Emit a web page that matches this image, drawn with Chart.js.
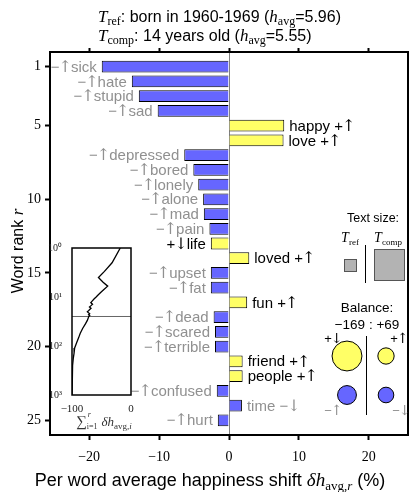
<!DOCTYPE html>
<html>
<head>
<meta charset="utf-8">
<script src="https://cdn.jsdelivr.net/npm/chart.js@4.4.1/dist/chart.umd.min.js"></script>
<style>
  body { margin: 0; background: #fff; }
  #wrap { position: relative; width: 409px; height: 492px; }
  #main { position: absolute; left: 0; top: 0; }
  #inset { position: absolute; left: 30px; top: 240px; }
</style>
</head>
<body>
<div id="wrap">
  <canvas id="main" width="409" height="492"></canvas>
  <canvas id="inset" width="110" height="200"></canvas>
</div>
<script>
const ranks = [1, 2, 3, 4, 5, 6, 7, 8, 9, 10, 11, 12, 13, 14, 15, 16, 17, 18, 19, 20, 21, 22, 23, 24, 25];
const words = ['sick', 'hate', 'stupid', 'sad', 'happy', 'love', 'depressed', 'bored', 'lonely', 'alone',
  'mad', 'pain', 'life', 'loved', 'upset', 'fat', 'fun', 'dead', 'scared', 'terrible',
  'friend', 'people', 'confused', 'time', 'hurt'];
const kinds = ['−↑', '−↑', '−↑', '−↑', '+↑', '+↑', '−↑', '−↑', '−↑', '−↑',
  '−↑', '−↑', '+↓', '+↑', '−↑', '−↑', '+↑', '−↑', '−↑', '−↑',
  '+↑', '+↑', '−↑', '−↓', '−↑'];
const shifts = [-18.2, -13.9, -12.9, -10.2, 7.9, 7.8, -6.4, -5.1, -4.4, -3.7,
  -3.6, -2.8, -2.6, 2.9, -2.6, -2.6, 2.6, -2.2, -2.0, -2.0,
  1.95, 1.95, -1.75, 1.85, -1.6];
const xTicks = [-20, -10, 0, 10, 20];
const yTicks = [1, 5, 10, 15, 20, 25];

// inset: cumulative shift past the top 25
const tailRanks = [30, 35, 44, 55, 69, 85, 110, 140, 174, 250, 400, 600, 1000];
const tailCumShift = [-74, -77, -82, -86, -89, -92, -95.5, -96.5, -97.7, -99, -99.5, -100, -100];
const insetXTicks = [-100, 0];
const insetYTicks = [1, 10, 100, 1000];

// balance legend
const balanceKinds = ['+↓', '+↑', '−↑', '−↓'];
const balanceValues = [-121, 36, -48, 33];
const balanceTotals = [-169, 69];

const BLUE = '#6666ff', YELLOW = '#ffff66', GRAY_TXT = '#909090';
const SANS = '"Liberation Sans", Arial, sans-serif';
const SERIF = '"Liberation Serif", "Times New Roman", serif';
const ARROW_FONT = '"DejaVu Serif", serif';

function richWidth(ctx, segs) {
  let w = 0;
  segs.forEach(s => { ctx.font = s.f; w += ctx.measureText(s.t).width + (s.gap || 0); });
  return w;
}
function drawRich(ctx, x, y, segs, align) {
  const w = richWidth(ctx, segs);
  let cx = align === 'center' ? x - w / 2 : align === 'right' ? x - w : x;
  ctx.textAlign = 'left';
  segs.forEach(s => {
    ctx.font = s.f;
    ctx.fillText(s.t, cx, y + (s.dy || 0));
    cx += ctx.measureText(s.t).width + (s.gap || 0);
  });
}
// sign + arrow pieces, arrow drawn in a thinner font, pulled in a little
function kindSegs(k, size) {
  return [{ t: k[0], f: size + 'px ' + SANS, gap: -1 }, { t: k[1], f: (size + 1) + 'px ' + ARROW_FONT, gap: -1 }];
}

const barColors = kinds.map(k => k[0] === '+' ? YELLOW : BLUE);

const wordLabels = {
  id: 'wordLabels',
  afterDatasetsDraw(chart) {
    const ctx = chart.ctx;
    const meta = chart.getDatasetMeta(0);
    ctx.save();
    ctx.textBaseline = 'middle';
    const f = '15px ' + SANS;
    meta.data.forEach((bar, i) => {
      ctx.fillStyle = kinds[i][0] === '+' ? '#000' : GRAY_TXT;
      if (shifts[i] < 0) {
        drawRich(ctx, bar.x - 5, bar.y + 1, kindSegs(kinds[i], 15).concat([{ t: words[i], f: f }]), 'right');
      } else {
        drawRich(ctx, bar.x + 5, bar.y + 1, [{ t: words[i] + ' ', f: f }].concat(kindSegs(kinds[i], 15)), 'left');
      }
    });
    ctx.restore();
  }
};

const decorations = {
  id: 'decorations',
  afterDraw(chart) {
    const ctx = chart.ctx;
    ctx.save();
    ctx.fillStyle = '#000';
    ctx.textBaseline = 'alphabetic';
    // title
    const it17 = 'italic 17px ' + SERIF, sub12 = '12px ' + SERIF, s16 = '16px ' + SANS;
    drawRich(ctx, 98, 22, [
      { t: 'T', f: it17 }, { t: 'ref', f: sub12, dy: 3 }, { t: ': born in 1960-1969 (', f: s16 },
      { t: 'h', f: it17 }, { t: 'avg', f: sub12, dy: 3 }, { t: '=5.96)', f: s16 }]);
    drawRich(ctx, 98, 41, [
      { t: 'T', f: it17 }, { t: 'comp', f: sub12, dy: 3 }, { t: ': 14 years old (', f: s16 },
      { t: 'h', f: it17 }, { t: 'avg', f: sub12, dy: 3 }, { t: '=5.55)', f: s16 }]);
    // axis titles
    drawRich(ctx, 210, 486, [
      { t: 'Per word average happiness shift ', f: '18px ' + SANS },
      { t: 'δh', f: 'italic 19px ' + SERIF }, { t: 'avg,', f: '13px ' + SERIF, dy: 4 },
      { t: 'r', f: 'italic 13px ' + SERIF, dy: 4 }, { t: ' (%)', f: '18px ' + SANS }], 'center');
    ctx.save();
    ctx.translate(23, 251);
    ctx.rotate(-Math.PI / 2);
    drawRich(ctx, 0, 0, [{ t: 'Word rank ', f: '16px ' + SANS }, { t: 'r', f: 'italic 17px ' + SERIF }], 'center');
    ctx.restore();

    // text size legend
    ctx.font = '12.5px ' + SANS;
    ctx.textAlign = 'center';
    ctx.textBaseline = 'middle';
    ctx.fillText('Text size:', 373, 219);
    ctx.textBaseline = 'alphabetic';
    const it14 = 'italic 14px ' + SERIF, sub9 = '9px ' + SERIF;
    drawRich(ctx, 350, 242, [{ t: 'T', f: it14 }, { t: 'ref', f: sub9, dy: 3 }], 'center');
    drawRich(ctx, 388, 242, [{ t: 'T', f: it14 }, { t: 'comp', f: sub9, dy: 3 }], 'center');
    ctx.strokeStyle = '#000';
    ctx.lineWidth = 1;
    ctx.beginPath();
    ctx.moveTo(365.5, 245); ctx.lineTo(365.5, 283);
    ctx.moveTo(366.5, 336); ctx.lineTo(366.5, 415);
    ctx.stroke();
    ctx.fillStyle = '#b3b3b3';
    ctx.strokeStyle = '#555';
    ctx.fillRect(344, 259, 12, 12); ctx.strokeRect(344.5, 259.5, 12, 12);
    ctx.fillRect(374, 249, 30, 31); ctx.strokeRect(374.5, 249.5, 30, 31);

    // balance legend
    ctx.fillStyle = '#000';
    ctx.font = '13.5px ' + SANS;
    ctx.textAlign = 'center';
    ctx.textBaseline = 'middle';
    ctx.fillText('Balance:', 367, 308);
    ctx.fillText('−' + Math.abs(balanceTotals[0]) + ' : +' + balanceTotals[1], 367, 325);
    const spots = [[347, 356], [386, 356], [347, 395], [386, 395]];
    const tags = [[333, 339], [399, 339], [333, 411], [401, 411]];
    balanceKinds.forEach((k, i) => {
      const r = Math.sqrt(Math.abs(balanceValues[i])) * 1.36;
      ctx.beginPath();
      ctx.arc(spots[i][0], spots[i][1], r, 0, 2 * Math.PI);
      ctx.fillStyle = k[0] === '+' ? YELLOW : BLUE;
      ctx.fill();
      ctx.strokeStyle = '#000';
      ctx.stroke();
      ctx.fillStyle = k[0] === '+' ? '#000' : GRAY_TXT;
      drawRich(ctx, tags[i][0], tags[i][1], kindSegs(k, 13), 'center');
    });
    ctx.restore();
  }
};

const mainChart = new Chart(document.getElementById('main'), {
  type: 'bar',
  data: {
    datasets: [{
      data: shifts.map((v, i) => ({ x: v, y: ranks[i] })),
      backgroundColor: barColors,
      borderColor: '#000',
      borderWidth: 1,
      barPercentage: 0.8,
      categoryPercentage: 1,
      xAxisID: 'x',
      yAxisID: 'y'
    }]
  },
  options: {
    indexAxis: 'y',
    responsive: false,
    animation: false,
    devicePixelRatio: 1,
    layout: { padding: 0 },
    plugins: { legend: { display: false }, tooltip: { enabled: false } },
    scales: {
      x: {
        type: 'linear', position: 'bottom', min: -25.6, max: 25.6,
        afterBuildTicks: s => { s.ticks = xTicks.map(v => ({ value: v })); },
        ticks: {
          font: { family: SERIF, size: 14 }, color: '#000', padding: 9,
          callback: v => v < 0 ? '−' + Math.abs(v) : '' + v
        },
        grid: {
          color: c => c.tick && c.tick.value === 0 ? '#808080' : 'rgba(0,0,0,0)',
          tickColor: '#000', tickLength: 5, tickWidth: 2, lineWidth: 1
        },
        border: { display: true, width: 2, color: '#000' },
        afterFit: s => { s.height = 57; }
      },
      xTop: {
        type: 'linear', axis: 'x', position: 'top', min: -25.6, max: 25.6,
        afterBuildTicks: s => { s.ticks = xTicks.map(v => ({ value: v })); },
        ticks: { display: false },
        grid: { drawOnChartArea: false, tickColor: '#000', tickLength: 4, tickWidth: 2 },
        border: { display: true, width: 2, color: '#000' },
        afterFit: s => { s.height = 52; }
      },
      y: {
        type: 'linear', position: 'left', reverse: true, min: 0, max: 26, offset: false,
        afterBuildTicks: s => { s.ticks = yTicks.map(v => ({ value: v })); },
        ticks: { font: { family: SERIF, size: 14 }, color: '#000', padding: 4 },
        grid: { offset: false, drawOnChartArea: false, tickColor: '#000', tickLength: 5, tickWidth: 2 },
        border: { display: true, width: 2, color: '#000' },
        afterFit: s => { s.width = 50; }
      },
      yRight: {
        type: 'linear', axis: 'y', position: 'right', min: 0, max: 26, offset: false,
        ticks: { display: false },
        grid: { display: false },
        border: { display: true, width: 2, color: '#000' },
        afterFit: s => { s.width = 1; }
      }
    }
  },
  plugins: [wordLabels, decorations]
});

// ---- inset: cumulative sum of shifts ----
const cumTop = [];
shifts.reduce((acc, v) => { const c = acc + v; cumTop.push(c); return c; }, 0);
const cumPoints = ranks.map((r, i) => ({ x: cumTop[i], y: r }))
  .concat(tailRanks.map((r, i) => ({ x: tailCumShift[i], y: r })));
const SUP = ['⁰', '¹', '²', '³'];

const insetDeco = {
  id: 'insetDeco',
  beforeDraw(chart) {
    const a = chart.chartArea, ctx = chart.ctx;
    ctx.save();
    ctx.fillStyle = '#fff';
    ctx.fillRect(a.left, a.top, a.right - a.left, a.bottom - a.top);
    ctx.restore();
  },
  afterDraw(chart) {
    const a = chart.chartArea, ctx = chart.ctx;
    ctx.save();
    ctx.strokeStyle = '#000';
    ctx.lineWidth = 1.5;
    ctx.strokeRect(a.left, a.top, a.right - a.left, a.bottom - a.top);
    ctx.fillStyle = '#333';
    ctx.textBaseline = 'alphabetic';
    ctx.textAlign = 'left';
    let x = 46;
    const y = 186;
    ctx.font = '15px ' + SERIF;
    ctx.fillText('∑', x, y);
    x += ctx.measureText('∑').width;
    ctx.font = 'italic 8px ' + SERIF;
    ctx.fillText('r', x + 1, y - 9);
    ctx.font = '8px ' + SERIF;
    ctx.fillText('i=1', x, y + 3);
    x += ctx.measureText('i=1').width + 4;
    drawRich(ctx, x, y, [{ t: 'δh', f: 'italic 13px ' + SERIF }, { t: 'avg,', f: '9px ' + SERIF, dy: 3 },
      { t: 'i', f: 'italic 9px ' + SERIF, dy: 3 }]);
    ctx.restore();
  }
};

const insetChart = new Chart(document.getElementById('inset'), {
  type: 'line',
  data: {
    datasets: [{
      data: cumPoints, borderColor: '#000', borderWidth: 1.3, pointRadius: 0, fill: false, tension: 0
    }, {
      data: [{ x: insetXTicks[0], y: 25 }, { x: insetXTicks[1], y: 25 }],
      borderColor: '#666', borderWidth: 1, pointRadius: 0, fill: false
    }]
  },
  options: {
    responsive: false,
    animation: false,
    devicePixelRatio: 1,
    layout: { padding: { top: 4, right: 9 } },
    plugins: { legend: { display: false }, tooltip: { enabled: false } },
    scales: {
      x: {
        type: 'linear', min: -100, max: 0,
        afterBuildTicks: s => { s.ticks = insetXTicks.map(v => ({ value: v })); },
        ticks: {
          font: { family: SERIF, size: 11 }, color: '#222', padding: 0, maxRotation: 0,
          callback: v => v < 0 ? '−' + Math.abs(v) : '' + v
        },
        grid: { display: false },
        border: { display: false },
        afterFit: s => { s.height = 45; }
      },
      y: {
        type: 'logarithmic', reverse: true, min: 1, max: 1000,
        afterBuildTicks: s => { s.ticks = insetYTicks.map(v => ({ value: v })); },
        ticks: {
          font: { family: SERIF, size: 10 }, color: '#222', padding: 2,
          callback: v => '10' + SUP[Math.round(Math.log10(v))]
        },
        grid: { display: false },
        border: { display: false },
        afterFit: s => { s.width = 42; }
      }
    }
  },
  plugins: [insetDeco]
});
</script>
</body>
</html>
